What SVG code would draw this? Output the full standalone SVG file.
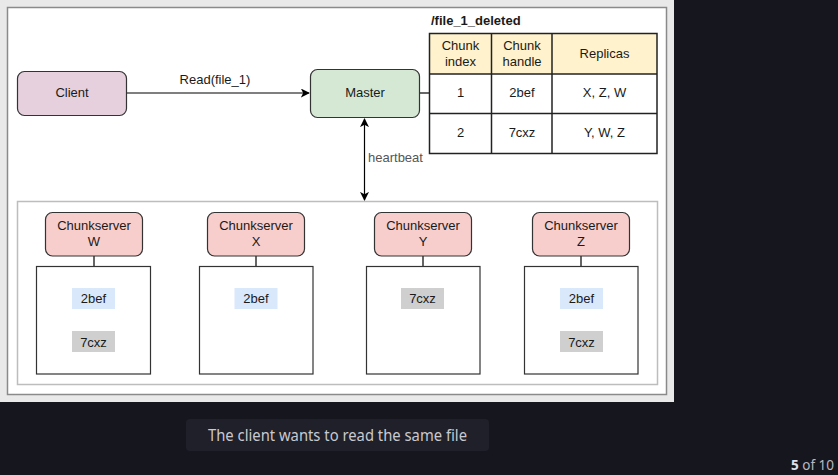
<svg xmlns="http://www.w3.org/2000/svg" width="838" height="475" viewBox="0 0 838 475">
<defs>
<style>
.t{font-family:"Liberation Sans",Arial,sans-serif;font-size:13px;fill:#1a1a1a;text-anchor:middle}
.node{stroke:#333;stroke-width:1.2}
.box{fill:#fff;stroke:#333;stroke-width:1.2}
.conn{stroke:#000;stroke-width:1.2;fill:none}
.cell{stroke:#222;stroke-width:1.5}
.blue{fill:#dae8fc}
.gray{fill:#cfcfcf}
</style>
<marker id="arr" viewBox="0 0 10 10" refX="9" refY="5" markerWidth="9" markerHeight="9" markerUnits="userSpaceOnUse" orient="auto-start-reverse">
<path d="M0,0 L10,5 L0,10 L2.5,5 Z" fill="#000"/>
</marker>
</defs>
<rect x="0" y="0" width="838" height="475" fill="#16161f"/>
<rect x="0" y="0" width="674" height="402" fill="#e9e9e9"/>
<rect x="7.5" y="7.5" width="659" height="387" fill="#fff" stroke="#8a8a8a" stroke-width="1.5"/>
<rect x="17.5" y="201.5" width="640" height="183" fill="#fff" stroke="#bdbdbd" stroke-width="1.5"/>

<g id="connectors">
<line class="conn" x1="127" y1="93" x2="309" y2="93" marker-end="url(#arr)"/>
<text class="t" x="215" y="84">Read(file_1)</text>
<line class="conn" x1="364.5" y1="119" x2="364.5" y2="200" marker-start="url(#arr)" marker-end="url(#arr)"/>
<text class="t" x="368" y="162" style="text-anchor:start;fill:#555">heartbeat</text>
<line class="conn" x1="419" y1="93" x2="429" y2="93"/>
<line class="conn" x1="94" y1="256" x2="94" y2="266"/>
<line class="conn" x1="256" y1="256" x2="256" y2="266"/>
<line class="conn" x1="423" y1="256" x2="423" y2="266"/>
<line class="conn" x1="581" y1="256" x2="581" y2="266"/>
</g>

<g id="client">
<rect class="node" x="17.5" y="71.5" width="109" height="44" rx="7" fill="#e6d0de"/>
<text class="t" x="72" y="97">Client</text>
</g>

<g id="master">
<rect class="node" x="310.5" y="69.5" width="109" height="48" rx="7" fill="#d5e8d4"/>
<text class="t" x="365" y="97">Master</text>
</g>

<g id="table">
<text class="t" x="431" y="25" style="text-anchor:start;font-weight:bold">/file_1_deleted</text>
<rect x="429.5" y="33.5" width="227.5" height="40.5" fill="#fff2cc"/>
<rect x="429.5" y="74" width="227.5" height="79.5" fill="#fff"/>
<rect class="cell" x="429.5" y="33.5" width="227.5" height="120" fill="none"/>
<line class="cell" x1="429.5" y1="74" x2="657" y2="74"/>
<line class="cell" x1="429.5" y1="113.5" x2="657" y2="113.5"/>
<line class="cell" x1="491.5" y1="33.5" x2="491.5" y2="153.5"/>
<line class="cell" x1="552" y1="33.5" x2="552" y2="153.5"/>
<text class="t" x="460.5" y="50">Chunk</text>
<text class="t" x="460.5" y="66">index</text>
<text class="t" x="522" y="50">Chunk</text>
<text class="t" x="522" y="66">handle</text>
<text class="t" x="604.5" y="58">Replicas</text>
<text class="t" x="460.5" y="97">1</text>
<text class="t" x="522" y="97">2bef</text>
<text class="t" x="604.5" y="97">X, Z, W</text>
<text class="t" x="460.5" y="137">2</text>
<text class="t" x="522" y="137">7cxz</text>
<text class="t" x="604.5" y="137">Y, W, Z</text>
</g>

<g id="chunkserver-w">
<rect class="node" x="45.5" y="212.5" width="97" height="43.5" rx="7" fill="#f8cecc"/>
<text class="t" x="94" y="230">Chunkserver</text>
<text class="t" x="94" y="246">W</text>
<rect class="box" x="36.5" y="266.5" width="114" height="107.5"/>
<rect class="blue" x="72" y="288" width="43" height="21"/>
<text class="t" x="93.5" y="303">2bef</text>
<rect class="gray" x="72" y="331" width="43" height="21"/>
<text class="t" x="93.5" y="347">7cxz</text>
</g>

<g id="chunkserver-x">
<rect class="node" x="207.5" y="212.5" width="97" height="43.5" rx="7" fill="#f8cecc"/>
<text class="t" x="256" y="230">Chunkserver</text>
<text class="t" x="256" y="246">X</text>
<rect class="box" x="199.5" y="266.5" width="113.5" height="107.5"/>
<rect class="blue" x="234.5" y="288" width="43" height="21"/>
<text class="t" x="256" y="303">2bef</text>
</g>

<g id="chunkserver-y">
<rect class="node" x="374.5" y="212.5" width="97" height="43.5" rx="7" fill="#f8cecc"/>
<text class="t" x="423" y="230">Chunkserver</text>
<text class="t" x="423" y="246">Y</text>
<rect class="box" x="366.5" y="266.5" width="113.5" height="107.5"/>
<rect class="gray" x="401" y="288" width="43" height="21"/>
<text class="t" x="422.5" y="303">7cxz</text>
</g>

<g id="chunkserver-z">
<rect class="node" x="532.5" y="212.5" width="97" height="43.5" rx="7" fill="#f8cecc"/>
<text class="t" x="581" y="230">Chunkserver</text>
<text class="t" x="581" y="246">Z</text>
<rect class="box" x="524.5" y="266.5" width="113.5" height="107.5"/>
<rect class="blue" x="560" y="288" width="43" height="21"/>
<text class="t" x="581.5" y="303">2bef</text>
<rect class="gray" x="560" y="331" width="43" height="21"/>
<text class="t" x="581.5" y="347">7cxz</text>
</g>

<g id="caption">
<rect x="186" y="419" width="303" height="32" rx="4" fill="#1f2029"/>
<text x="337.5" y="441" font-family="'Noto Sans',sans-serif" font-size="15.5" fill="#c9c9cf" text-anchor="middle" textLength="259" lengthAdjust="spacingAndGlyphs">The client wants to read the same file</text>
</g>
<g id="pager">
<text x="834" y="470" font-family="'Noto Sans',sans-serif" font-size="13.5" fill="#b8b8c0" text-anchor="end"><tspan font-weight="bold" fill="#e0e0e6">5</tspan> of 10</text>
</g>
</svg>
